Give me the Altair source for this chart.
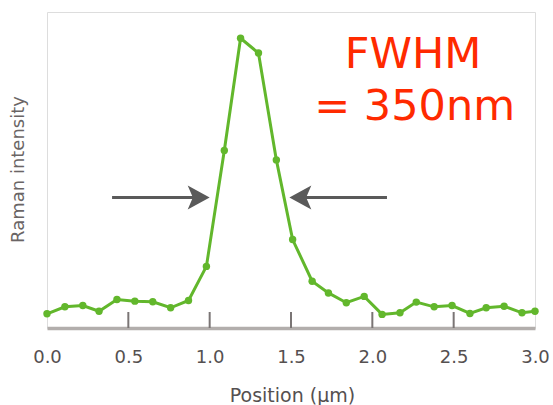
import altair as alt
import pandas as pd

# Raman line profile across the feature
position = [0.00, 0.11, 0.22, 0.32, 0.43, 0.54, 0.65, 0.76, 0.87, 0.98,
            1.09, 1.19, 1.30, 1.41, 1.51, 1.63, 1.73, 1.84, 1.95, 2.06,
            2.17, 2.27, 2.38, 2.49, 2.60, 2.70, 2.81, 2.92, 3.00]
intensity = [4.5, 6.7, 7.1, 5.3, 9.0, 8.5, 8.3, 6.4, 8.7, 19.5,
             56.2, 91.7, 87.0, 53.2, 28.0, 14.8, 11.1, 8.0, 10.0, 4.3,
             4.8, 8.2, 6.7, 7.1, 4.6, 6.4, 6.9, 4.8, 5.3]

tick_values = [0.0, 0.5, 1.0, 1.5, 2.0, 2.5, 3.0]
inner_ticks = [0.5, 1.0, 1.5, 2.0, 2.5]

# half-maximum arrows: shaft start, shaft end, tip, height
arrow_start = [0.40, 2.09]
arrow_end = [0.95, 1.55]
arrow_tip = [1.00, 1.49]
arrow_level = 41.3

note_lines = ["FWHM", "= 350nm"]
note_x = [2.25, 2.26]
note_y = [82.3, 65.9]

GREEN = "#62b72c"
ARROW = "#5a5a5a"
RED = "#ff2a00"

profile = pd.DataFrame({"pos": position, "val": intensity})
ticks_df = pd.DataFrame({"t": inner_ticks})
shafts = pd.DataFrame({"x": arrow_start, "x2": arrow_end,
                       "y": [arrow_level] * 2})
heads = pd.DataFrame({"x": arrow_tip, "y": [arrow_level] * 2,
                      "dir": ["right", "left"]})
notes = pd.DataFrame({"label": note_lines, "x": note_x, "y": note_y})

x_scale = alt.Scale(domain=[0, 3], nice=False, zero=False)
y_scale = alt.Scale(domain=[0, 100], nice=False)

x_axis = alt.Axis(
    title="Position (µm)", values=tick_values, format=".1f",
    grid=False, ticks=False, tickSize=0,
    domain=True, domainColor="#b2aeac", domainWidth=3.5,
    labelFont="DejaVu Sans", labelFontSize=18, labelColor="#555050",
    labelBaseline="alphabetic", labelPadding=34,
    labelFlush=False, labelOverlap=False, labelBound=False,
    titleFont="DejaVu Sans", titleFontSize=19, titleFontWeight="normal",
    titleColor="#555050", titleBaseline="alphabetic",
    titleX=245, titleY=73, titleAlign="center",
)
y_axis = alt.Axis(
    title="Raman intensity", labels=False, ticks=False, grid=False,
    domain=False,
    titleFont="DejaVu Sans", titleFontSize=18, titleFontWeight="normal",
    titleColor="#6a6565", titleAngle=270, titleAlign="center",
    titleBaseline="middle", titleX=-29, titleY=157,
)

base = alt.Chart(profile)

line = base.mark_line(color=GREEN, strokeWidth=3).encode(
    x=alt.X("pos:Q", scale=x_scale, axis=x_axis),
    y=alt.Y("val:Q", scale=y_scale, axis=y_axis),
)
points = base.mark_point(filled=True, color=GREEN, size=55, opacity=1,
                         shape="circle").encode(
    x=alt.X("pos:Q", scale=x_scale),
    y=alt.Y("val:Q", scale=y_scale),
)

inner = alt.Chart(ticks_df).mark_rule(color="#7a7575", strokeWidth=2).encode(
    x=alt.X("t:Q", scale=x_scale),
    y=alt.value(300),
    y2=alt.value(316),
)

shaft = alt.Chart(shafts).mark_rule(color=ARROW, strokeWidth=3).encode(
    x=alt.X("x:Q", scale=x_scale),
    x2="x2:Q",
    y=alt.Y("y:Q", scale=y_scale),
)

head_right = alt.Chart(heads).transform_filter(
    alt.datum.dir == "right"
).mark_point(
    shape="M0,0 L-1.83,-1 L-1.4,0 L-1.83,1 Z",
    filled=True, color=ARROW, size=576, opacity=1,
).encode(
    x=alt.X("x:Q", scale=x_scale),
    y=alt.Y("y:Q", scale=y_scale),
)
head_left = alt.Chart(heads).transform_filter(
    alt.datum.dir == "left"
).mark_point(
    shape="M0,0 L1.83,-1 L1.4,0 L1.83,1 Z",
    filled=True, color=ARROW, size=576, opacity=1,
).encode(
    x=alt.X("x:Q", scale=x_scale),
    y=alt.Y("y:Q", scale=y_scale),
)

note = alt.Chart(notes).mark_text(
    font="DejaVu Sans", fontSize=43, color=RED,
    align="center", baseline="alphabetic",
).encode(
    x=alt.X("x:Q", scale=x_scale),
    y=alt.Y("y:Q", scale=y_scale),
    text="label:N",
)

chart = alt.layer(
    inner, line, points, shaft, head_right, head_left, note
).properties(
    width=488, height=316,
    autosize=alt.AutoSizeParams(type="none"),
    padding={"left": 47, "top": 12, "right": 18, "bottom": 77},
).configure_view(
    stroke="#a29e9c", strokeWidth=2.7, fill="white",
).configure(background="white")

chart.save("out.html", embed_options={"renderer": "svg", "actions": False})
